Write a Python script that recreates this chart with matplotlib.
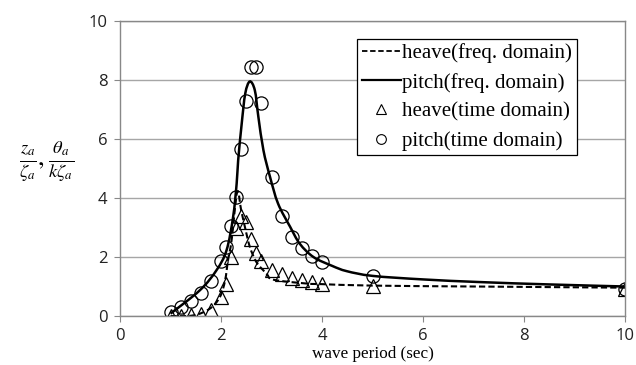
import matplotlib
matplotlib.use("Agg")
import matplotlib.pyplot as plt
import numpy as np
from matplotlib.lines import Line2D
from matplotlib.path import Path
from matplotlib.patches import PathPatch

# time-domain results
t_time = [1.0, 1.2, 1.4, 1.6, 1.8, 2.0, 2.1, 2.2, 2.3, 2.4, 2.5, 2.6, 2.7, 2.8,
          3.0, 3.2, 3.4, 3.6, 3.8, 4.0, 5.0, 10.0]
heave_time = [0.0, 0.0, 0.02, 0.06, 0.22, 0.65, 1.1, 2.0, 3.0, 3.4, 3.18, 2.6, 2.15, 1.85,
              1.55, 1.42, 1.3, 1.22, 1.15, 1.1, 1.03, 0.92]
pitch_time = [0.13, 0.3, 0.52, 0.79, 1.2, 1.87, 2.35, 3.05, 4.04, 5.66, 7.3, 8.45, 8.43, 7.22,
              4.7, 3.4, 2.67, 2.3, 2.03, 1.82, 1.35, 0.92]

# frequency-domain results
t_heave_freq = [1.0, 1.45, 1.78, 1.98, 2.08, 2.14, 2.21, 2.32, 2.4, 2.48, 2.57, 2.7, 2.9,
                3.04, 3.7, 4.0, 5.0, 7.0, 10.0]
heave_freq = [0.0, 0.02, 0.25, 0.65, 1.2, 1.9, 2.57, 4.2, 3.58, 2.97, 2.35, 1.83, 1.44,
              1.23, 1.1, 1.08, 1.03, 1.0, 0.96]
t_pitch_freq = [1.0, 1.58, 1.91, 2.11, 2.24, 2.31, 2.34, 2.41, 2.48, 2.57, 2.67, 2.74, 2.84,
                2.97, 3.13, 3.37, 3.56, 3.83, 4.2, 4.49, 5.0, 6.0, 7.13, 8.5, 10.0]
pitch_freq = [0.08, 0.87, 1.55, 2.23, 3.36, 4.49, 5.28, 6.52, 7.54, 7.95, 7.65, 6.75, 5.62,
              4.72, 3.81, 3.02, 2.45, 2.0, 1.7, 1.52, 1.36, 1.24, 1.15, 1.07, 1.0]

x_ticks = [0, 2, 4, 6, 8, 10]
y_ticks = [0, 2, 4, 6, 8, 10]
legend_labels = ["heave(freq. domain)", "pitch(freq. domain)",
                 "heave(time domain)", "pitch(time domain)"]


def smooth_path(xs, ys, tension=1/6):
    """Catmull-Rom style Bezier path through the points (like a smoothed spreadsheet line)."""
    p = np.column_stack([xs, ys]).astype(float)
    n = len(p)
    verts = [p[0]]
    codes = [Path.MOVETO]
    for i in range(n - 1):
        p0 = p[i - 1] if i > 0 else p[i]
        p1 = p[i]
        p2 = p[i + 1]
        p3 = p[i + 2] if i + 2 < n else p[i + 1]
        c1 = p1 + (p2 - p0) * tension
        c2 = p2 - (p3 - p1) * tension
        verts += [c1, c2, p2]
        codes += [Path.CURVE4] * 3
    return Path(verts, codes)


plt.rcParams['mathtext.fontset'] = 'stix'
fig = plt.figure(figsize=(6.36, 3.65), dpi=100)
ax = fig.add_axes([120/636, 1-316/365, 505/636, 295/365])

grid_c = '#a6a6a6'
for sp in ax.spines.values():
    sp.set_color('#888888')
    sp.set_linewidth(1.0)
ax.set_axisbelow(True)
ax.yaxis.grid(True, color=grid_c, linewidth=1.0)

ax.add_patch(PathPatch(smooth_path(t_heave_freq, heave_freq), facecolor='none',
                       edgecolor='black', linestyle=(0, (3, 1.5)), linewidth=1.5))
ax.add_patch(PathPatch(smooth_path(t_pitch_freq, pitch_freq), facecolor='none',
                       edgecolor='black', linestyle='-', linewidth=1.8))
ax.plot(t_time, heave_time, linestyle='none', marker='^', markersize=10,
        markerfacecolor='none', markeredgecolor='black', markeredgewidth=0.9)
ax.plot(t_time, pitch_time, linestyle='none', marker='o', markersize=9.5,
        markerfacecolor='none', markeredgecolor='black', markeredgewidth=0.9)

ax.set_xlim(0, 10)
ax.set_ylim(0, 10)
ax.set_xticks(x_ticks)
ax.set_yticks(y_ticks)
ax.tick_params(axis='both', direction='out', length=4, color='#888888',
               labelsize=12, labelcolor='#222222')
for lab in ax.get_xticklabels() + ax.get_yticklabels():
    lab.set_family('Open Sans')
ax.tick_params(axis='x', pad=5)
ax.tick_params(axis='y', pad=5)

ax.set_xlabel('wave period (sec)', family='Liberation Serif', fontsize=12.3, labelpad=1)

fig.text(47/636, 1-161/365, r'$\frac{z_a}{\zeta_a},\frac{\theta_a}{k\zeta_a}$',
         fontsize=19, ha='center', va='center')

handles = [
    Line2D([], [], color='black', linestyle=(0, (3, 1.5)), linewidth=1.3),
    Line2D([], [], color='black', linestyle='-', linewidth=1.6),
    Line2D([], [], linestyle='none', marker='^', markersize=7, markerfacecolor='none',
           markeredgecolor='black', markeredgewidth=0.8),
    Line2D([], [], linestyle='none', marker='o', markersize=7, markerfacecolor='none',
           markeredgecolor='black', markeredgewidth=0.8),
]
leg = ax.legend(handles, legend_labels, loc='upper left',
                bbox_to_anchor=((357-120)/505, (316-39)/295),
                prop={'family': 'Liberation Serif', 'size': 15},
                frameon=True, fancybox=False, edgecolor='black', framealpha=1,
                handlelength=1.9, handletextpad=0.05, borderpad=0.22,
                labelspacing=0.45, borderaxespad=0)
leg.get_frame().set_linewidth(0.9)

fig.savefig('out.png', dpi=100)
